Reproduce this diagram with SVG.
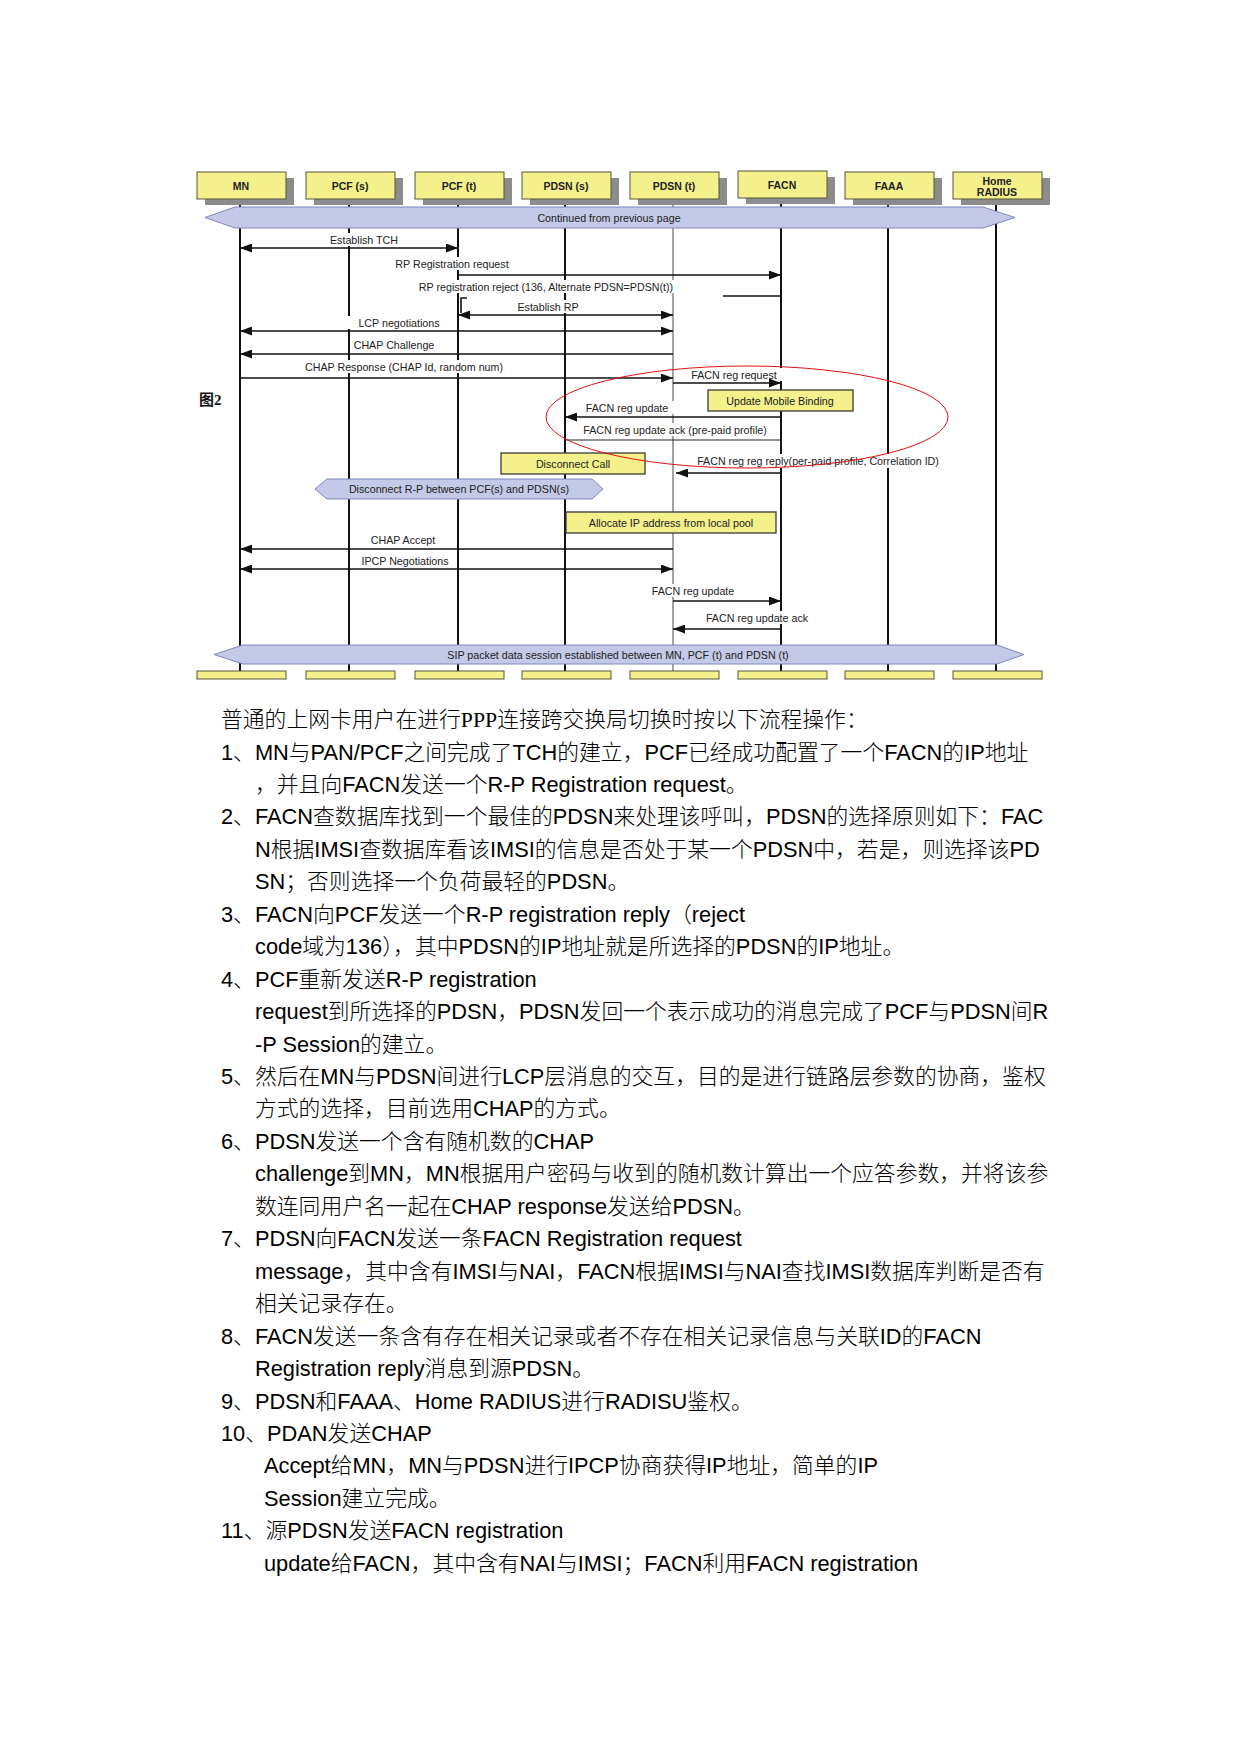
<svg xmlns="http://www.w3.org/2000/svg" width="1241" height="1754" viewBox="0 0 1241 1754">
<style>
.bg{fill:#ffffff}
.box{fill:#f4f08c;stroke:#55553a;stroke-width:1}
.shadow{fill:#8c8c8c}
.bbox{fill:#f4f08c;stroke:#3a3a3a;stroke-width:1.3}
.lname{font-family:"Liberation Sans",Arial,sans-serif;font-size:10.5px;font-weight:bold;fill:#222;text-anchor:middle}
.life{stroke:#111;stroke-width:2;fill:none}
.lifet{stroke:#666;stroke-width:1.2;fill:none}
.msg{stroke:#111;stroke-width:1.6;fill:none}
.thin{stroke:#222;stroke-width:1.1;fill:none}
.lbl{font-family:"Liberation Sans",Arial,sans-serif;font-size:10.7px;fill:#222;text-anchor:middle}
.lblbg{fill:#ffffff}
.band{fill:#c4c9e7;stroke:#7f87ba;stroke-width:1}
.body{font-family:"Liberation Sans","Noto Sans CJK SC",sans-serif;font-size:21.8px;font-weight:300;fill:#000}
.serif{font-family:"Liberation Serif","Noto Sans CJK SC",serif;font-size:21.8px;font-weight:300;fill:#000}
</style>
<defs>
<marker id="ah" markerUnits="userSpaceOnUse" markerWidth="12" markerHeight="9" refX="12" refY="4.5" orient="auto-start-reverse">
<path d="M0,0 L12,4.5 L0,9 z" fill="#111"/>
</marker>
</defs>
<rect class="bg" x="0" y="0" width="1241" height="1754"/>

<g id="lifelines">
<line class="life" x1="240" y1="199" x2="240" y2="671"/>
<line class="life" x1="349" y1="199" x2="349" y2="671"/>
<line class="life" x1="458" y1="199" x2="458" y2="671"/>
<line class="life" x1="565" y1="199" x2="565" y2="671"/>
<line class="lifet" x1="673" y1="199" x2="673" y2="671"/>
<line class="life" x1="781" y1="199" x2="781" y2="671"/>
<line class="life" x1="888" y1="199" x2="888" y2="671"/>
<line class="life" x1="996" y1="199" x2="996" y2="671"/>
</g>

<g id="label-backgrounds">
<rect class="lblbg" x="324" y="233" width="79" height="13"/>
<rect class="lblbg" x="389" y="257" width="125" height="13"/>
<rect class="lblbg" x="412" y="280" width="268" height="13"/>
<rect class="lblbg" x="512" y="300" width="72" height="13"/>
<rect class="lblbg" x="346" y="316" width="104" height="13"/>
<rect class="lblbg" x="351" y="338" width="88" height="13"/>
<rect class="lblbg" x="299" y="360" width="210" height="13"/>
<rect class="lblbg" x="685" y="368" width="99" height="13"/>
<rect class="lblbg" x="579" y="401" width="96" height="13"/>
<rect class="lblbg" x="577" y="423" width="197" height="13"/>
<rect class="lblbg" x="690" y="454" width="260" height="14"/>
<rect class="lblbg" x="365" y="533" width="75" height="13"/>
<rect class="lblbg" x="355" y="554" width="99" height="13"/>
<rect class="lblbg" x="646" y="584" width="94" height="13"/>
<rect class="lblbg" x="700" y="611" width="114" height="13"/>
</g>

<g id="node-MN">
<rect class="shadow" x="205" y="178" width="89" height="27"/>
<rect class="box" x="197" y="172" width="89" height="27"/>
<text class="lname" x="241" y="189.5">MN</text>
<rect class="box" x="197" y="671" width="89" height="8"/>
</g>
<g id="node-PCFs">
<rect class="shadow" x="314" y="178" width="89" height="27"/>
<rect class="box" x="306" y="172" width="89" height="27"/>
<text class="lname" x="350" y="189.5">PCF (s)</text>
<rect class="box" x="306" y="671" width="89" height="8"/>
</g>
<g id="node-PCFt">
<rect class="shadow" x="423" y="178" width="89" height="27"/>
<rect class="box" x="415" y="172" width="89" height="27"/>
<text class="lname" x="459" y="189.5">PCF (t)</text>
<rect class="box" x="415" y="671" width="89" height="8"/>
</g>
<g id="node-PDSNs">
<rect class="shadow" x="530" y="178" width="89" height="27"/>
<rect class="box" x="522" y="172" width="89" height="27"/>
<text class="lname" x="566" y="189.5">PDSN (s)</text>
<rect class="box" x="522" y="671" width="89" height="8"/>
</g>
<g id="node-PDSNt">
<rect class="shadow" x="638" y="178" width="89" height="27"/>
<rect class="box" x="630" y="172" width="89" height="27"/>
<text class="lname" x="674" y="189.5">PDSN (t)</text>
<rect class="box" x="630" y="671" width="89" height="8"/>
</g>
<g id="node-FACN">
<rect class="shadow" x="746" y="177" width="89" height="27"/>
<rect class="box" x="738" y="171" width="89" height="27"/>
<text class="lname" x="782" y="188.5">FACN</text>
<rect class="box" x="738" y="671" width="89" height="8"/>
</g>
<g id="node-FAAA">
<rect class="shadow" x="853" y="178" width="89" height="27"/>
<rect class="box" x="845" y="172" width="89" height="27"/>
<text class="lname" x="889" y="189.5">FAAA</text>
<rect class="box" x="845" y="671" width="89" height="8"/>
</g>
<g id="node-HomeRADIUS">
<rect class="shadow" x="961" y="178" width="89" height="27"/>
<rect class="box" x="953" y="172" width="89" height="27"/>
<text class="lname" x="997" y="184.5">Home</text>
<text class="lname" x="997" y="195.5">RADIUS</text>
<rect class="box" x="953" y="671" width="89" height="8"/>
</g>

<g id="band-continued">
<polygon class="band" points="205,217.5 235,207 983,207 1015,217.5 983,228 235,228"/>
<text class="lbl" x="609" y="221.5">Continued from previous page</text>
</g>

<g id="connectors">
<path class="msg" d="M240,248 H458" marker-start="url(#ah)" marker-end="url(#ah)"/>
<path class="msg" d="M458,275 H781" marker-end="url(#ah)"/>
<path class="msg" d="M723,296 H781"/>
<path class="msg" d="M467,298 H461 V313"/>
<path class="msg" d="M458,315 H673" marker-start="url(#ah)" marker-end="url(#ah)"/>
<path class="msg" d="M240,331 H673" marker-start="url(#ah)" marker-end="url(#ah)"/>
<path class="msg" d="M673,354 H240" marker-end="url(#ah)"/>
<path class="msg" d="M240,378 H673" marker-end="url(#ah)"/>
<path class="msg" d="M673,383 H781" marker-end="url(#ah)"/>
<path class="msg" d="M781,417 H565" marker-end="url(#ah)"/>
<path class="thin" d="M565,440 H781 V448"/>
<path class="msg" d="M781,473 H676" marker-end="url(#ah)"/>
<path class="msg" d="M673,549 H240" marker-end="url(#ah)"/>
<path class="msg" d="M240,569 H673" marker-start="url(#ah)" marker-end="url(#ah)"/>
<path class="msg" d="M673,601 H781" marker-end="url(#ah)"/>
<path class="msg" d="M781,629 H673" marker-end="url(#ah)"/>
</g>

<g id="labels">
<text class="lbl" x="364" y="244">Establish TCH</text>
<text class="lbl" x="452" y="267.5">RP Registration request</text>
<text class="lbl" x="546" y="290.5">RP registration reject (136, Alternate PDSN=PDSN(t))</text>
<text class="lbl" x="548" y="310.5">Establish RP</text>
<text class="lbl" x="399" y="326.5">LCP negotiations</text>
<text class="lbl" x="394" y="348.5">CHAP Challenge</text>
<text class="lbl" x="404" y="370.5">CHAP Response (CHAP Id, random num)</text>
<text class="lbl" x="734" y="378.5">FACN reg request</text>
<text class="lbl" x="627" y="411.5">FACN reg update</text>
<text class="lbl" x="675" y="433.5">FACN reg update ack (pre-paid profile)</text>
<text class="lbl" x="818" y="464.5">FACN reg reg reply(per-paid profile, Correlation ID)</text>
<text class="lbl" x="403" y="543.5">CHAP Accept</text>
<text class="lbl" x="405" y="564.5">IPCP Negotiations</text>
<text class="lbl" x="693" y="594.5">FACN reg update</text>
<text class="lbl" x="757" y="621.5">FACN reg update ack</text>
</g>

<g id="box-update-mobile-binding">
<rect class="bbox" x="708" y="390" width="145" height="21"/>
<text class="lbl" x="780" y="404.5">Update Mobile Binding</text>
</g>
<g id="box-disconnect-call">
<rect class="bbox" x="501" y="453" width="144" height="21"/>
<text class="lbl" x="573" y="467.5">Disconnect Call</text>
</g>
<g id="band-disconnect-rp">
<polygon class="band" points="315,489 327,479 592,479 603,489 592,499 327,499"/>
<text class="lbl" x="459" y="492.5">Disconnect R-P between PCF(s) and PDSN(s)</text>
</g>
<g id="box-allocate-ip">
<rect class="bbox" x="566" y="512" width="210" height="21"/>
<text class="lbl" x="671" y="526.5">Allocate IP address from local pool</text>
</g>
<g id="band-sip">
<polygon class="band" points="214,654.5 243,645 997,645 1024,654.5 997,664 243,664"/>
<text class="lbl" x="618" y="658.5">SIP packet data session established between MN, PCF (t) and PDSN (t)</text>
</g>

<ellipse cx="747" cy="417" rx="201" ry="51" fill="none" stroke="#e41010" stroke-width="1"/>

<text x="199" y="405" font-family="Liberation Serif, Noto Sans CJK SC, serif" font-size="15" font-weight="bold" fill="#111">图2</text>

<g id="body-text">
<text class="serif" x="221" y="727">普通的上网卡用户在进行PPP连接跨交换局切换时按以下流程操作：</text>
<text class="body" x="221" y="759.5">1、MN与PAN/PCF之间完成了TCH的建立，PCF已经成功配置了一个FACN的IP地址</text>
<text class="body" x="255" y="791.9">，并且向FACN发送一个R-P Registration request。</text>
<text class="body" x="221" y="824.4">2、FACN查数据库找到一个最佳的PDSN来处理该呼叫，PDSN的选择原则如下：FAC</text>
<text class="body" x="255" y="856.8">N根据IMSI查数据库看该IMSI的信息是否处于某一个PDSN中，若是，则选择该PD</text>
<text class="body" x="255" y="889.3">SN；否则选择一个负荷最轻的PDSN。</text>
<text class="body" x="221" y="921.7">3、FACN向PCF发送一个R-P registration reply（reject</text>
<text class="body" x="255" y="954.2">code域为136），其中PDSN的IP地址就是所选择的PDSN的IP地址。</text>
<text class="body" x="221" y="986.6">4、PCF重新发送R-P registration</text>
<text class="body" x="255" y="1019.1">request到所选择的PDSN，PDSN发回一个表示成功的消息完成了PCF与PDSN间R</text>
<text class="body" x="255" y="1051.5">-P Session的建立。</text>
<text class="body" x="221" y="1084">5、然后在MN与PDSN间进行LCP层消息的交互，目的是进行链路层参数的协商，鉴权</text>
<text class="body" x="255" y="1116.4">方式的选择，目前选用CHAP的方式。</text>
<text class="body" x="221" y="1148.9">6、PDSN发送一个含有随机数的CHAP</text>
<text class="body" x="255" y="1181.3">challenge到MN，MN根据用户密码与收到的随机数计算出一个应答参数，并将该参</text>
<text class="body" x="255" y="1213.8">数连同用户名一起在CHAP response发送给PDSN。</text>
<text class="body" x="221" y="1246.2">7、PDSN向FACN发送一条FACN Registration request</text>
<text class="body" x="255" y="1278.7">message，其中含有IMSI与NAI，FACN根据IMSI与NAI查找IMSI数据库判断是否有</text>
<text class="body" x="255" y="1311.1">相关记录存在。</text>
<text class="body" x="221" y="1343.6">8、FACN发送一条含有存在相关记录或者不存在相关记录信息与关联ID的FACN</text>
<text class="body" x="255" y="1376">Registration reply消息到源PDSN。</text>
<text class="body" x="221" y="1408.5">9、PDSN和FAAA、Home RADIUS进行RADISU鉴权。</text>
<text class="body" x="221" y="1440.9">10、PDAN发送CHAP</text>
<text class="body" x="264" y="1473.4">Accept给MN，MN与PDSN进行IPCP协商获得IP地址，简单的IP</text>
<text class="body" x="264" y="1505.8">Session建立完成。</text>
<text class="body" x="221" y="1538.3">11、源PDSN发送FACN registration</text>
<text class="body" x="264" y="1570.7">update给FACN，其中含有NAI与IMSI；FACN利用FACN registration</text>
</g>
</svg>
